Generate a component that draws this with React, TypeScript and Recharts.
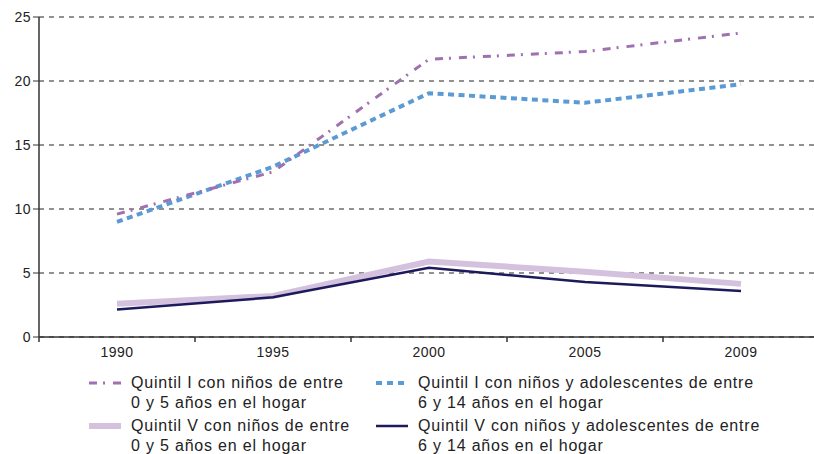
import { LineChart, Line, XAxis, YAxis, CartesianGrid } from 'recharts';

const years = ['1990', '1995', '2000', '2005', '2009'];
const quintilI_0a5 = [9.6, 12.9, 21.7, 22.3, 23.75];
const quintilI_6a14 = [9.0, 13.3, 19.05, 18.3, 19.75];
const quintilV_0a5 = [2.6, 3.2, 5.9, 5.1, 4.15];
const quintilV_6a14 = [2.15, 3.1, 5.4, 4.3, 3.6];
const yTicks = [0, 5, 10, 15, 20, 25];

const data = years.map((year, i) => ({
  year,
  qI05: quintilI_0a5[i],
  qI614: quintilI_6a14[i],
  qV05: quintilV_0a5[i],
  qV614: quintilV_6a14[i],
}));

const FONT = '"Liberation Sans", Arial, sans-serif';

const YearTick = (props: any) => {
  const { x, y, payload } = props;
  const half = payload && payload.offset ? payload.offset : 78;
  return (
    <g>
      <line x1={x - half} y1={y} x2={x - half} y2={y + 5} stroke="#333" strokeWidth={1.5} />
      <text x={x} y={y + 20} textAnchor="middle" fill="#222" fontSize={14} letterSpacing={0.5} fontFamily={FONT}>
        {payload.value}
      </text>
    </g>
  );
};

const LegendItem = ({ color, width, dash, lines }: { color: string; width: number; dash?: string; lines: string[] }) => (
  <div style={{ display: 'flex', alignItems: 'flex-start', height: 43 }}>
    <svg width={32} height={20} style={{ flex: 'none', marginRight: 10 }}>
      <line x1={0} y1={10} x2={32} y2={10} stroke={color} strokeWidth={width} strokeDasharray={dash} />
    </svg>
    <div style={{ lineHeight: '20px' }}>
      {lines.map((l) => (
        <div key={l}>{l}</div>
      ))}
    </div>
  </div>
);

export default function App() {
  return (
    <div style={{ position: 'absolute', left: 0, top: 0, width: 814, height: 454, overflow: 'hidden', background: '#fff', fontFamily: FONT }}>
      <LineChart width={830} height={360} data={data} margin={{ top: 17, right: 11, left: 0, bottom: 0 }}>
        <CartesianGrid vertical={false} stroke="#222" strokeDasharray="5 5" />
        <XAxis
          dataKey="year"
          scale="band"
          height={23}
          axisLine={{ stroke: '#333', strokeWidth: 1.5 }}
          tickLine={false}
          tickSize={0}
          tickMargin={0}
          tick={<YearTick />}
          interval={0}
        />
        <YAxis
          width={39}
          domain={[0, 25]}
          ticks={yTicks}
          axisLine={{ stroke: '#333', strokeWidth: 1.5 }}
          tickLine={{ stroke: '#333' }}
          tickSize={6}
          tick={{ fill: '#222', fontSize: 14, fontFamily: FONT, letterSpacing: 0.5 }}
        />
        <Line dataKey="qV05" stroke="#d4c1de" strokeWidth={6} dot={false} isAnimationActive={false} />
        <Line dataKey="qV614" stroke="#1c1a5c" strokeWidth={2.5} dot={false} isAnimationActive={false} />
        <Line dataKey="qI614" stroke="#5b9bd5" strokeWidth={4} strokeDasharray="6 4.5" dot={false} isAnimationActive={false} />
        <Line dataKey="qI05" stroke="#a070b0" strokeWidth={3} strokeDasharray="8 6 2 8" dot={false} isAnimationActive={false} />
      </LineChart>
      <div style={{ position: 'absolute', left: 89, top: 373, fontSize: 16, letterSpacing: 0.8, color: '#222' }}>
        <LegendItem color="#a070b0" width={3} dash="8 6 2 8" lines={['Quintil I con niños de entre', '0 y 5 años en el hogar']} />
        <LegendItem color="#d4c1de" width={6} lines={['Quintil V con niños de entre', '0 y 5 años en el hogar']} />
      </div>
      <div style={{ position: 'absolute', left: 376, top: 373, fontSize: 16, letterSpacing: 0.8, color: '#222' }}>
        <LegendItem color="#5b9bd5" width={4} dash="6 5" lines={['Quintil I con niños y adolescentes de entre', '6 y 14 años en el hogar']} />
        <LegendItem color="#1c1a5c" width={2.5} lines={['Quintil V con niños y adolescentes de entre', '6 y 14 años en el hogar']} />
      </div>
    </div>
  );
}
